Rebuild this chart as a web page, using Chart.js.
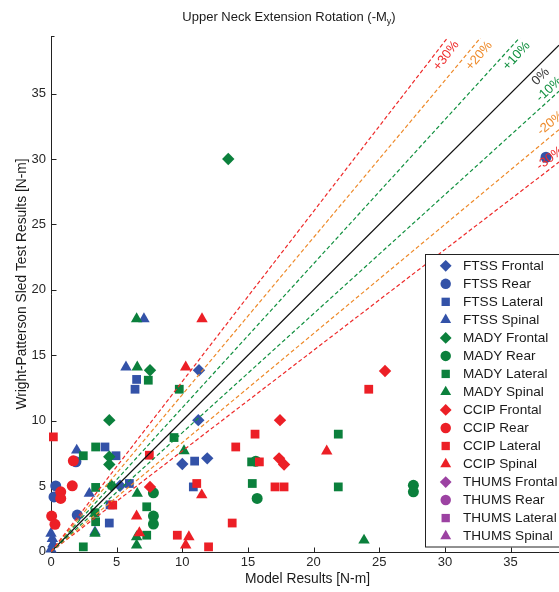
<!DOCTYPE html>
<html><head><meta charset="utf-8">
<script src="https://cdn.jsdelivr.net/npm/chart.js@4.4.0/dist/chart.umd.min.js"></script>
<style>html,body{margin:0;padding:0;background:#fff;overflow:hidden}</style>
</head><body>
<canvas id="c" width="559" height="592" style="display:block;width:559px;height:592px"></canvas>
<script>
// ---- tick labels ----
const xTicks = [0, 5, 10, 15, 20, 25, 30, 35];
const yTicks = [0, 5, 10, 15, 20, 25, 30, 35];

// ---- series: [model result, sled test result] ----
const ftssFrontal = [[11.27,13.86],[11.22,10.05],[10.0,6.7],[11.9,7.13],[5.26,5.04]];
const ftssRear    = [[37.7,30.13],[0.36,5.02],[0.23,4.18],[1.9,6.87],[2.0,2.8]];
const ftssLateral = [[6.52,13.16],[6.4,12.41],[4.11,8.0],[4.95,7.33],[10.94,6.92],[5.97,5.21],[10.84,4.95],[4.44,2.19],[4.5,3.58]];
const ftssSpinal  = [[7.08,17.78],[5.71,14.1],[1.96,7.75],[2.92,4.44],[3.35,1.5],[0.0,1.4],[0.1,1.0],[0.15,0.6],[0.0,0.2]];
const madyFrontal = [[13.5,30.0],[7.54,13.86],[4.44,10.05],[4.44,7.25],[4.44,6.66],[4.62,5.03]];
const madyRear    = [[7.8,4.5],[7.8,2.72],[7.8,2.11],[15.6,6.91],[15.7,4.07],[27.6,5.07],[27.6,4.57]];
const madyLateral = [[7.41,13.1],[9.77,12.41],[9.37,8.72],[2.46,7.33],[3.4,8.0],[3.4,4.91],[3.35,2.98],[3.4,2.29],[7.29,3.43],[7.29,1.26],[2.46,0.37],[15.28,6.86],[15.33,5.21],[21.88,8.98],[21.88,4.95]];
const madySpinal  = [[6.52,17.78],[6.57,14.1],[10.13,7.7],[6.57,4.44],[3.35,1.4],[6.52,1.13],[6.52,0.5],[23.84,0.87]];
const ccipFrontal = [[7.54,4.95],[25.44,13.8],[17.44,10.05],[17.37,7.13],[17.75,6.66]];
const ccipRear    = [[1.7,6.94],[1.62,5.03],[0.74,4.57],[0.74,4.07],[0.05,2.72],[0.3,2.09]];
const ccipLateral = [[0.18,8.77],[7.49,7.37],[11.1,5.21],[4.7,3.56],[9.62,1.26],[12.0,0.37],[24.2,12.41],[15.54,8.98],[14.07,8.0],[15.87,6.86],[17.06,4.95],[17.75,4.95],[13.8,2.19]];
const ccipSpinal  = [[11.5,17.78],[10.26,14.1],[11.48,4.33],[6.52,2.72],[6.73,1.44],[10.5,1.13],[10.26,0.5],[21.0,7.68]];
const thumsFrontal = [];
const thumsRear    = [];
const thumsLateral = [];
const thumsSpinal  = [];

// ---- reference lines (y = factor * x) and their labels ----
const lineFactors = [1.3, 1.2, 1.1, 1.0, 1/1.1, 1/1.2, 1/1.3];
const lineLabels  = ['+30%', '+20%', '+10%', '0%', '-10%', '-20%', '-30%'];
const lineLabelX  = [30.1, 32.6, 35.45, 37.3, 37.95, 38.05, 38.0];
const lineLabelY  = [37.88, 37.87, 37.87, 36.29, 35.32, 32.73, 30.05];

const C = {
  blue: '#3352a8', green: '#0b803c', red: '#ec1f26', purple: '#9c42a2',
  lred: '#ee2a2a', lorange: '#ee8a2a', lgreen: '#11903f', lblack: '#111111'
};
const lineColors = [C.lred, C.lorange, C.lgreen, C.lblack, C.lgreen, C.lorange, C.lred];
const FONT = "'Liberation Sans', Arial, Helvetica, sans-serif";

const series = [
  {label:'FTSS Frontal', data:ftssFrontal, color:C.blue, style:'rectRot', r:6.2, order:4},
  {label:'FTSS Rear', data:ftssRear, color:C.blue, style:'circle', r:5.5, order:4},
  {label:'FTSS Lateral', data:ftssLateral, color:C.blue, style:'rect', r:6.2, order:4},
  {label:'FTSS Spinal', data:ftssSpinal, color:C.blue, style:'triangle', r:6.6, order:4},
  {label:'MADY Frontal', data:madyFrontal, color:C.green, style:'rectRot', r:6.2, order:3},
  {label:'MADY Rear', data:madyRear, color:C.green, style:'circle', r:5.5, order:3},
  {label:'MADY Lateral', data:madyLateral, color:C.green, style:'rect', r:6.2, order:3},
  {label:'MADY Spinal', data:madySpinal, color:C.green, style:'triangle', r:6.6, order:3},
  {label:'CCIP Frontal', data:ccipFrontal, color:C.red, style:'rectRot', r:6.2, order:2},
  {label:'CCIP Rear', data:ccipRear, color:C.red, style:'circle', r:5.5, order:2},
  {label:'CCIP Lateral', data:ccipLateral, color:C.red, style:'rect', r:6.2, order:2},
  {label:'CCIP Spinal', data:ccipSpinal, color:C.red, style:'triangle', r:6.6, order:2},
  {label:'THUMS Frontal', data:thumsFrontal, color:C.purple, style:'rectRot', r:6.2, order:5},
  {label:'THUMS Rear', data:thumsRear, color:C.purple, style:'circle', r:5.5, order:5},
  {label:'THUMS Lateral', data:thumsLateral, color:C.purple, style:'rect', r:6.2, order:5},
  {label:'THUMS Spinal', data:thumsSpinal, color:C.purple, style:'triangle', r:6.6, order:5}
];

const X_MAX = 38.69, Y_MAX = 39.24;

const datasets = series.map(s => ({
  type: 'scatter', label: s.label,
  data: s.data.map(p => ({x: p[0], y: p[1]})),
  pointStyle: s.style, pointRadius: s.r, pointHoverRadius: s.r,
  backgroundColor: s.color, borderColor: s.color, borderWidth: 0,
  order: s.order, clip: false
}));
lineFactors.forEach((f, i) => {
  datasets.push({
    type: 'line', label: lineLabels[i],
    data: [{x: 0, y: 0}, {x: X_MAX, y: f * X_MAX}],
    borderColor: lineColors[i], borderWidth: i === 3 ? 1.3 : 1.2,
    borderDash: i === 3 ? [] : [4, 2.5],
    pointRadius: 0, fill: false, tension: 0, order: 1
  });
});

function drawMarker(ctx, style, x, y, r, color) {
  ctx.save();
  ctx.fillStyle = color;
  ctx.beginPath();
  if (style === 'circle') {
    ctx.arc(x, y, r, 0, Math.PI * 2);
  } else if (style === 'rect') {
    const s = Math.SQRT1_2 * r;
    ctx.rect(x - s, y - s, 2 * s, 2 * s);
  } else if (style === 'rectRot') {
    ctx.moveTo(x - r, y); ctx.lineTo(x, y - r); ctx.lineTo(x + r, y); ctx.lineTo(x, y + r);
    ctx.closePath();
  } else if (style === 'triangle') {
    let a = 0;
    ctx.moveTo(x + Math.sin(a) * r, y - Math.cos(a) * r);
    a += 2 * Math.PI / 3;
    ctx.lineTo(x + Math.sin(a) * r, y - Math.cos(a) * r);
    a += 2 * Math.PI / 3;
    ctx.lineTo(x + Math.sin(a) * r, y - Math.cos(a) * r);
    ctx.closePath();
  }
  ctx.fill();
  ctx.restore();
}

const decor = {
  id: 'decor',
  beforeDatasetsDraw(chart) {
    const ctx = chart.ctx, xs = chart.scales.x, ys = chart.scales.y, a = chart.chartArea;
    ctx.save();
    // axes lines and inward ticks
    ctx.strokeStyle = '#222'; ctx.lineWidth = 1;
    ctx.beginPath();
    const L = Math.round(a.left) + 0.5, B = Math.round(a.bottom) + 0.5;
    ctx.moveTo(L, a.top - 2); ctx.lineTo(L, B); ctx.lineTo(a.right + 2, B);
    ctx.moveTo(L, a.top - 1.5); ctx.lineTo(L + 3, a.top - 1.5);
    xTicks.forEach(v => { const p = Math.round(xs.getPixelForValue(v)) + 0.5; ctx.moveTo(p, B); ctx.lineTo(p, B - 5); });
    yTicks.forEach(v => { const p = Math.round(ys.getPixelForValue(v)) + 0.5; ctx.moveTo(L, p); ctx.lineTo(L + 5, p); });
    ctx.stroke();
    ctx.restore();
  },
  afterDatasetsDraw(chart) {
    const ctx = chart.ctx, xs = chart.scales.x, ys = chart.scales.y;
    ctx.save();
    // line labels along the lines
    const kx = xs.getPixelForValue(1) - xs.getPixelForValue(0);
    const ky = ys.getPixelForValue(0) - ys.getPixelForValue(1);
    ctx.font = '13px ' + FONT;
    ctx.textAlign = 'center'; ctx.textBaseline = 'middle';
    lineLabels.forEach((t, i) => {
      const ang = Math.atan(lineFactors[i] * ky / kx);
      ctx.save();
      ctx.translate(xs.getPixelForValue(lineLabelX[i]), ys.getPixelForValue(lineLabelY[i]));
      ctx.rotate(-ang);
      ctx.fillStyle = i === 3 ? '#333' : lineColors[i];
      ctx.fillText(t, 0, 0);
      ctx.restore();
    });
    ctx.restore();
  },
  afterDraw(chart) {
    const ctx = chart.ctx;
    ctx.save();
    // legend box
    const bx = 425.5, by = 254.5, bw = 140, bh = 292.5;
    ctx.fillStyle = '#fff';
    ctx.fillRect(bx, by, bw, bh);
    ctx.strokeStyle = '#222'; ctx.lineWidth = 1;
    ctx.strokeRect(bx, by, bw, bh);
    ctx.font = '13.6px ' + FONT;
    ctx.textAlign = 'left'; ctx.textBaseline = 'middle';
    series.forEach((s, i) => {
      const y = 265.8 + i * 18.02;
      drawMarker(ctx, s.style, 445.7, y, s.r * 0.95, s.color);
      ctx.fillStyle = '#1a1a1a';
      ctx.fillText(s.label, 463, y + 0.5);
    });
    // title with subscript
    ctx.fillStyle = '#1a1a1a';
    ctx.textBaseline = 'alphabetic';
    const t1 = 'Upper Neck Extension Rotation (-M', t2 = 'y', t3 = ')';
    ctx.font = '13px ' + FONT; const w1 = ctx.measureText(t1).width, w3 = ctx.measureText(t3).width;
    ctx.font = '9px ' + FONT; const w2 = ctx.measureText(t2).width;
    let x0 = 289 - (w1 + w2 + w3) / 2;
    ctx.font = '13px ' + FONT; ctx.fillText(t1, x0, 20.5);
    ctx.font = '9px ' + FONT; ctx.fillText(t2, x0 + w1, 23.5);
    ctx.font = '13px ' + FONT; ctx.fillText(t3, x0 + w1 + w2, 20.5);
    // axis titles
    ctx.font = '13.8px ' + FONT;
    ctx.textAlign = 'center'; ctx.textBaseline = 'middle';
    ctx.fillText('Model Results [N-m]', 307.5, 579);
    ctx.save();
    ctx.translate(22, 284);
    ctx.rotate(-Math.PI / 2);
    ctx.fillText('Wright-Patterson Sled Test Results [N-m]', 0, 0);
    ctx.restore();
    ctx.restore();
  }
};

new Chart(document.getElementById('c'), {
  type: 'scatter',
  data: { datasets },
  options: {
    responsive: false, animation: false, devicePixelRatio: 1, events: [],
    layout: { padding: { top: 38, right: 0, left: 0, bottom: 0 }, autoPadding: false },
    plugins: { legend: { display: false }, title: { display: false }, tooltip: { enabled: false } },
    scales: {
      x: {
        type: 'linear', min: 0, max: X_MAX,
        grid: { display: false, drawTicks: false }, border: { display: false },
        afterBuildTicks: s => { s.ticks = xTicks.map(v => ({ value: v })); },
        afterFit: s => { s.height = 40.3; s.paddingRight = 0; s.paddingLeft = 0; },
        ticks: { padding: 3, color: '#262626', font: { size: 13, family: FONT }, maxRotation: 0, autoSkip: false }
      },
      y: {
        type: 'linear', min: 0, max: Y_MAX,
        grid: { display: false, drawTicks: false }, border: { display: false },
        afterBuildTicks: s => { s.ticks = yTicks.map(v => ({ value: v })); },
        afterFit: s => { s.width = 51; s.paddingTop = 0; s.paddingBottom = 0; },
        ticks: { padding: 5, color: '#262626', font: { size: 13, family: FONT }, autoSkip: false }
      }
    }
  },
  plugins: [decor]
});
</script>
</body></html>
